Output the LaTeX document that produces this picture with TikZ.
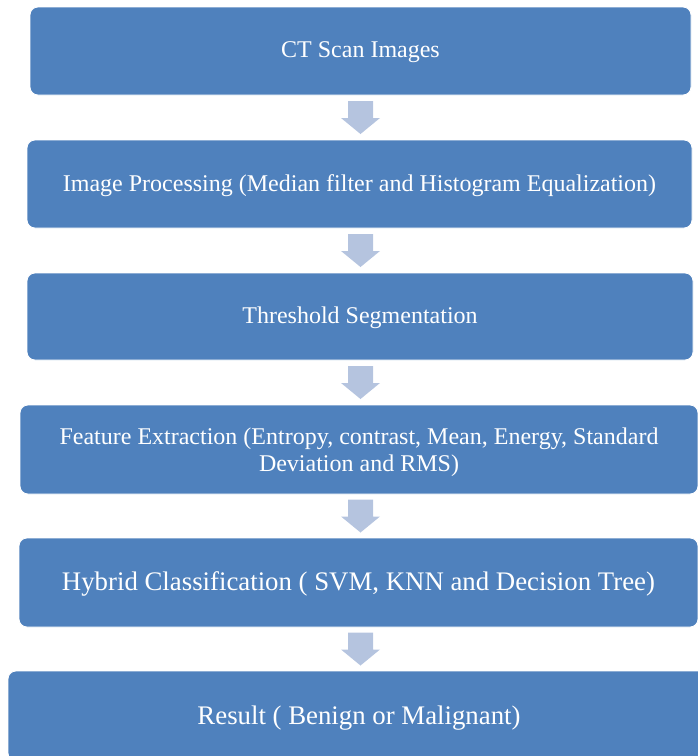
\documentclass[tikz,border=0pt]{standalone}
\usepackage{fontspec}
\setmainfont{Liberation Serif}
\usetikzlibrary{calc}
\definecolor{boxblue}{RGB}{79,129,189}
\definecolor{arrowblue}{RGB}{181,196,223}

\begin{document}
\begin{tikzpicture}[x=1pt,y=-1pt,
  stage box/.style={rectangle,rounded corners=8pt,fill=boxblue,draw=white,line width=0.8pt,
    text=white,font=\fontsize{24}{27}\selectfont,align=center,inner sep=0pt,text depth=2pt},
  big box/.style={stage box,font=\fontsize{26.8}{30}\selectfont},
  down arrow/.pic={\fill[arrowblue] (-12.5,-16.5) -- (12.5,-16.5) -- (12.5,0.5) -- (19.5,0.5)
    -- (0,16.5) -- (-19.5,0.5) -- (-12.5,0.5) -- cycle;}]

  \useasboundingbox (0,0) rectangle (698,756);
  \clip (0,0) rectangle (698,756);
  \coordinate (axis) at (360.5,0);

  \node[stage box,minimum width=661pt,minimum height=88pt] (ct) at (360.5,51) {CT Scan Images};
  \node[stage box,minimum width=665pt,minimum height=88pt] (proc) at (359.5,184)
    {Image Processing (Median filter and Histogram Equalization)};
  \node[stage box,minimum width=666pt,minimum height=87pt] (thresh) at (360,316.5)
    {Threshold Segmentation};
  \node[stage box,minimum width=678pt,minimum height=89pt,text depth=0pt] (feat) at (359,449.5)
    {Feature Extraction (Entropy, contrast, Mean, Energy, Standard\\Deviation and RMS)};
  \node[big box,minimum width=679pt,minimum height=89pt] (hybrid) at (358.5,582.5)
    {Hybrid Classification ( SVM, KNN and Decision Tree)};
  \node[big box,minimum width=702pt,minimum height=90pt] (result) at (359,716)
    {Result ( Benign or Malignant)};

  % block arrows between the stages
  \foreach \a/\b in {ct/proc,proc/thresh,thresh/feat,feat/hybrid,hybrid/result}{
    \coordinate (m) at ($(\a.south)!.5!(\b.north)$);
    \pic at (axis |- m) {down arrow};
  }
\end{tikzpicture}
\end{document}
